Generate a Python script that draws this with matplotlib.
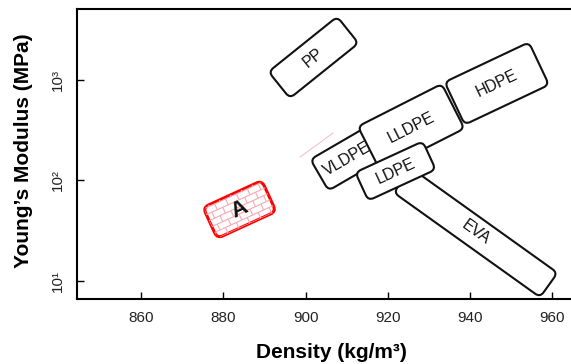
#!/usr/bin/python3
# coding: utf-8

'''
Ashby-style chart: Young's modulus against density for the polyethylene
grades, EVA, PP and material A. Writes out.png.
'''

import numpy as np
import matplotlib
matplotlib.use('Agg')
import matplotlib.pyplot as plt
from matplotlib.collections import LineCollection
from matplotlib.patches import FancyBboxPatch
from matplotlib.ticker import FixedLocator, FixedFormatter, NullLocator
from matplotlib.transforms import Affine2D, IdentityTransform

OUT_FILENAME = 'out.png'

## Materials in drawing order (later ones lie on top)
materials = ['EVA', 'VLDPE', 'HDPE', 'LLDPE', 'LDPE', 'PP', 'A']
## Both ends of each property band: density (kg/m3) and modulus (MPa)
density_lo = [923.6, 903.4, 936.3, 915.5, 913.7, 893.6, 876.8]
density_hi = [959.2, 916.8, 956.8, 935.9, 930.1, 910.3, 891.1]
modulus_lo = [100.2, 113.4, 585.0, 206.8, 87.1, 891.0, 37.8]
modulus_hi = [9.12, 236.1, 1456.0, 548.0, 177.4, 3145.0, 70.1]

## Faint pink stroke left of VLDPE
stroke_density = [898.7, 906.7]
stroke_modulus = [171.4, 297.0]

x_ticks = [860, 880, 900, 920, 940, 960]
x_tick_labels = ['860', '880', '900', '920', '940', '960']
y_ticks = [10, 100, 1000]
y_tick_labels = ['10¹', '10²', '10³']

## Band thickness in pixels
BAND_WIDTH = {'EVA': 30, 'VLDPE': 36, 'HDPE': 47, 'LLDPE': 50,
              'LDPE': 31, 'PP': 34, 'A': 34}
HIGHLIGHT = 'A'
FONT = 'Liberation Sans'


def brick_segments(length, width, row=6.5, brick=12.0):
    '''Brick hatch in the local frame of a band'''
    segs = []
    ys = np.arange(-width / 2, width / 2 + row, row)
    for i, y in enumerate(ys):
        segs.append([(-length / 2, y), (length / 2, y)])
        shift = 0 if i % 2 == 0 else brick / 2
        for x in np.arange(-length / 2 + shift, length / 2, brick):
            segs.append([(x, y), (x, y + row)])
    return segs


def plot():
    fig = plt.figure(figsize=(5.71, 3.64), dpi=100)
    ax = fig.add_axes([77 / 571, 65 / 364, 494 / 571, 290 / 364])
    ax.set_yscale('log')
    ax.set_xlim(844.4, 964.6)
    ax.set_ylim(10 ** 0.821, 10 ** 3.706)
    ax.set_autoscale_on(False)

    ax.xaxis.set_major_locator(FixedLocator(x_ticks))
    ax.xaxis.set_major_formatter(FixedFormatter(x_tick_labels))
    ax.yaxis.set_major_locator(FixedLocator(y_ticks))
    ax.yaxis.set_major_formatter(FixedFormatter(y_tick_labels))
    ax.yaxis.set_minor_locator(NullLocator())
    ax.xaxis.set_minor_locator(NullLocator())
    ax.tick_params(direction='in', length=5, width=1.0, labelsize=11,
                   labelcolor='#222222')
    ax.tick_params(axis='x', pad=9)
    ax.tick_params(axis='y', pad=8.5, labelrotation=90)
    for lab in ax.get_xticklabels() + ax.get_yticklabels():
        lab.set_fontfamily(FONT)
    for lab in ax.get_yticklabels():
        lab.set_va('center')

    for side in ('left', 'bottom', 'top'):
        ax.spines[side].set_linewidth(1.5)
    ax.spines['right'].set_visible(False)

    ax.set_xlabel('Density (kg/m³)', fontsize=15, fontweight='bold', family=FONT)
    ax.set_ylabel('Young’s Modulus (MPa)', fontsize=15, fontweight='bold', family=FONT)
    ax.xaxis.set_label_coords(0.515, -0.152)
    ax.yaxis.set_label_coords(-0.09, 0.512)

    ax.plot(stroke_density, stroke_modulus, color='#f6b8c2', lw=0.7, zorder=1)

    for i, name in enumerate(materials):
        (x0, y0), (x1, y1) = ax.transData.transform(
            [(density_lo[i], modulus_lo[i]), (density_hi[i], modulus_hi[i])])
        length = np.hypot(x1 - x0, y1 - y0)
        angle = np.degrees(np.arctan2(y1 - y0, x1 - x0))
        cx, cy = (x0 + x1) / 2, (y0 + y1) / 2
        width = BAND_WIDTH[name]
        tr = Affine2D().rotate_deg(angle).translate(cx, cy)
        z = 2 + 3 * i

        hot = name == HIGHLIGHT
        box = FancyBboxPatch((-length / 2, -width / 2), length, width,
                             boxstyle='round,pad=0,rounding_size=6',
                             transform=tr, facecolor='white',
                             edgecolor='red' if hot else '#111111',
                             linewidth=2.2 if hot else 1.5, zorder=z)
        ax.add_patch(box)
        if hot:
            lc = LineCollection(brick_segments(length, width), transform=tr,
                                colors='#f5a9b3', linewidths=0.8, zorder=z + 0.5)
            lc.set_clip_path(box)
            ax.add_collection(lc, autolim=False)
        ax.text(cx, cy, name, transform=IdentityTransform(),
                rotation=angle, rotation_mode='anchor', ha='center', va='center',
                fontsize=16 if hot else 11.5,
                fontweight='bold' if hot else 'normal',
                family=FONT, color='#111111', zorder=z + 1, clip_on=True)

    fig.savefig(OUT_FILENAME, dpi=100)
    return 0


if __name__ == '__main__':
    plot()
